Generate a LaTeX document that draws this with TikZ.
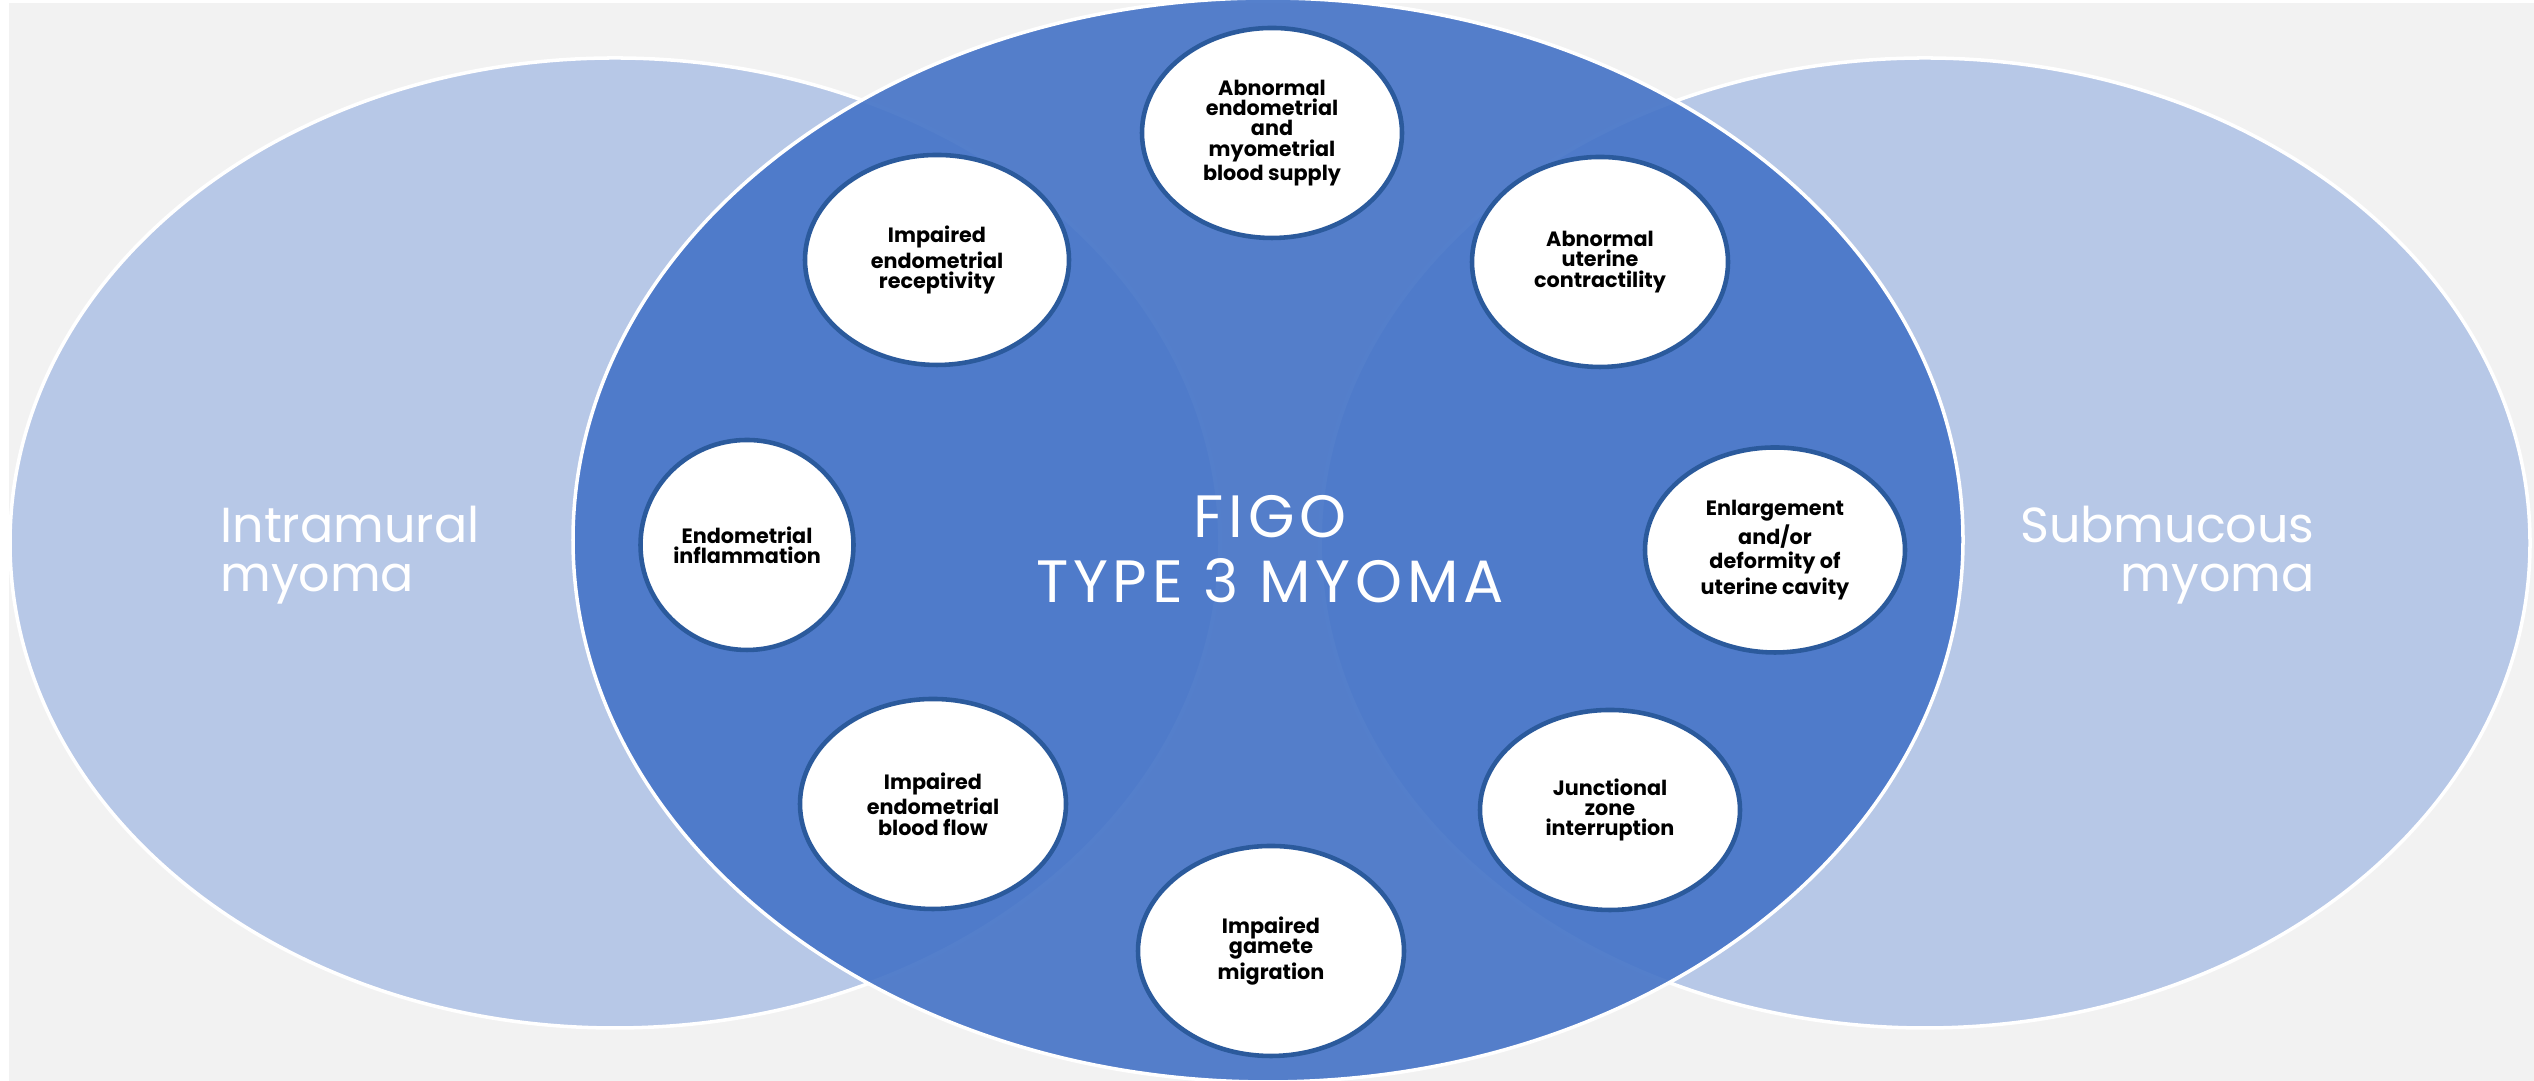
\documentclass[tikz,border=0pt]{standalone}
\usepackage{fontspec}
\setmainfont{Poppins}
\usetikzlibrary{shapes.geometric}

\definecolor{pagegray}{HTML}{F2F2F2}
\definecolor{paleblue}{HTML}{B7C8E7}
\definecolor{midblue}{HTML}{4876C8}
\definecolor{rimblue}{HTML}{2B5A9C}

\begin{document}
\begin{tikzpicture}[
    effect/.style={ellipse, draw=rimblue, line width=1.3pt, fill=white,
      inner sep=0pt, minimum width=2.6cm, minimum height=2.1cm, align=center,
      font=\fontsize{5.9}{5.8}\selectfont\bfseries},
    sidelabel/.style={text=white, font=\fontsize{14}{14}\selectfont},
    rim/.style={white, line width=1pt}
  ]
      \useasboundingbox (0,0) rectangle (25.34,10.81);
      \fill[pagegray] (0.09,0) rectangle (25.34,10.78);

      % Ellipses (outer)
      \draw[rim, fill=paleblue] (6.15,5.38) ellipse [x radius=6.05, y radius=4.85];
      \draw[rim, fill=paleblue] (19.25,5.38) ellipse [x radius=6.05, y radius=4.85];

      % Ellipse (middle)
      \draw[rim, fill=midblue, fill opacity=0.93] (12.68,5.41)
      ellipse [x radius=6.95, y radius=5.42];

      % Labels
      \node[sidelabel, anchor=west, align=left] (intra) at (2.08,5.26)
      {Intramural\\myoma};
      \node[sidelabel, anchor=east, align=right] (submuc) at (23.27,5.26)
      {Submucous\\myoma};
      \node[text=white, align=center,
        font=\fontsize{17}{18.5}\selectfont\addfontfeatures{LetterSpace=8}]
      (figo) at (12.70,5.32) {FIGO\\TYPE 3 MYOMA};

      % Circles (inner)
      \node[effect] (supply) at (12.72,9.48)
      {Abnormal\\endometrial\\and\\myometrial\\blood supply};
      \node[effect, minimum width=2.56cm] (contract) at (16.00,8.19)
      {Abnormal\\uterine\\contractility};
      \node[effect, minimum height=2.05cm] (cavity) at (17.75,5.31)
      {Enlargement\\and/or\\deformity of\\uterine cavity};
      \node[effect, minimum height=2.0cm] (junction) at (16.10,2.71)
      {Junctional\\zone\\interruption};
      \node[effect, minimum width=2.66cm] (gamete) at (12.71,1.30)
      {Impaired\\gamete\\migration};
      \node[effect, minimum width=2.66cm] (flow) at (9.33,2.77)
      {Impaired\\endometrial\\blood flow};
      \node[effect, minimum width=2.13cm] (inflam) at (7.47,5.36)
      {Endometrial\\inflammation};
      \node[effect, minimum width=2.64cm] (recept) at (9.37,8.21)
      {Impaired\\endometrial\\receptivity};
    \end{tikzpicture}
\end{document}
